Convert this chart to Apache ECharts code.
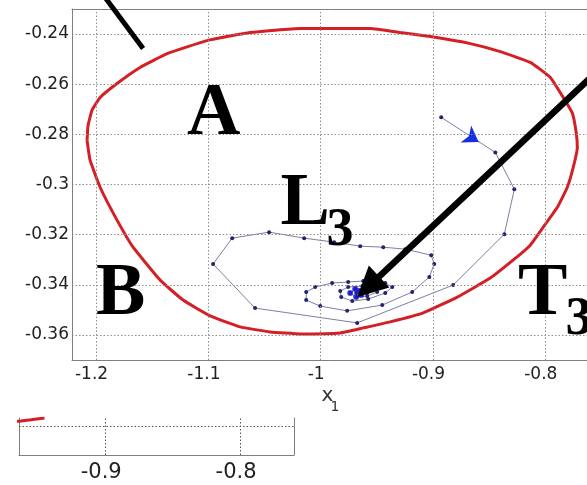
<!DOCTYPE html>
<html>
<head>
<meta charset="utf-8">
<script src="https://cdn.jsdelivr.net/npm/echarts@6/dist/echarts.min.js"></script>
<style>
  html, body { margin: 0; padding: 0; background: #ffffff; }
  #chart { width: 587px; height: 485px; }
</style>
</head>
<body>
<div id="chart"></div>
<script>
// Boundary of the attraction region (closed curve), x1 and x2 coordinates
const boundaryX = [-1.2080, -1.2071, -1.2036, -1.1964, -1.1813, -1.1608, -1.1367, -1.1011, -1.0628, -1.0183,
  -0.9559, -0.9292, -0.9024, -0.8668, -0.8401, -0.8134, -0.7955, -0.7840, -0.7759, -0.7724,
  -0.7715, -0.7751, -0.7804, -0.7893, -0.8018, -0.8134, -0.8285, -0.8490, -0.8784, -0.9087,
  -0.9381, -0.9621, -0.9826, -1.0183, -1.0450, -1.0717, -1.0984, -1.1225, -1.1430, -1.1670,
  -1.1813, -1.1964, -1.2053, -1.2080];
const boundaryY = [-0.2824, -0.2764, -0.2704, -0.2653, -0.2597, -0.2533, -0.2478, -0.2426, -0.2394, -0.2378,
  -0.2378, -0.2394, -0.2410, -0.2438, -0.2470, -0.2513, -0.2573, -0.2653, -0.2716, -0.2796,
  -0.2852, -0.2931, -0.3011, -0.3091, -0.3170, -0.3242, -0.3301, -0.3373, -0.3449, -0.3512,
  -0.3548, -0.3572, -0.3592, -0.3596, -0.3588, -0.3568, -0.3524, -0.3461, -0.3381, -0.3250,
  -0.3142, -0.3011, -0.2903, -0.2824];

// Sampled trajectory spiralling into the equilibrium
const trajX = [-0.8927, -0.8445, -0.8276, -0.8365, -0.8820, -0.9675, -1.0584, -1.0958, -1.0788, -1.0459,
  -1.0147, -0.9880, -0.9648, -0.9443, -0.9247, -0.9016, -0.8989, -0.9033, -0.9185, -0.9452,
  -0.9764, -1.0004, -1.0129, -1.0129, -1.0049, -0.9898, -0.9755, -0.9621, -0.9425, -0.9363,
  -0.9425, -0.9577, -0.9719, -0.9817, -0.9826, -0.9755, -0.9630, -0.9514, -0.9497, -0.9586,
  -0.9684, -0.9737, -0.9693, -0.9612, -0.9586, -0.9639, -0.9684, -0.9657, -0.9630];
const trajY = [-0.2732, -0.2872, -0.3019, -0.3198, -0.3401, -0.3552, -0.3493, -0.3317, -0.3214, -0.3190,
  -0.3214, -0.3230, -0.3246, -0.3250, -0.3258, -0.3282, -0.3317, -0.3369, -0.3429, -0.3481,
  -0.3504, -0.3485, -0.3461, -0.3429, -0.3409, -0.3393, -0.3389, -0.3385, -0.3393, -0.3409,
  -0.3433, -0.3457, -0.3465, -0.3449, -0.3425, -0.3409, -0.3405, -0.3413, -0.3429, -0.3445,
  -0.3449, -0.3433, -0.3417, -0.3417, -0.3433, -0.3441, -0.3433, -0.3425, -0.3429];

// Last samples packed around the equilibrium point
const eqX = [-0.9684, -0.9737, -0.9693, -0.9639, -0.9657, -0.9630];
const eqY = [-0.3449, -0.3433, -0.3417, -0.3441, -0.3425, -0.3429];

// Direction marker on the first step of the trajectory
const startArrowX = [-0.8669, -0.8594];
const startArrowY = [-0.2809, -0.2830];

// Pointer lines (start, end)
const pointerX = [-0.7332, -0.9577];
const pointerY = [-0.2462, -0.3408];
const stubX = [-1.1964, -1.1581];
const stubY = [-0.2227, -0.2458];

// Axis ranges and ticks
const xRange = [-1.2214, -0.762];
const yRange = [-0.37, -0.23];
const xTicks = [-1.2, -1.1, -1, -0.9, -0.8];
const yTicks = [-0.36, -0.34, -0.32, -0.3, -0.28, -0.26, -0.24];

// Lower close-up panel
const insetXRange = [-0.9639, -0.76];
const insetYRange = [-0.37, -0.3572];
const insetXTicks = [-0.9, -0.8];
const insetYTicks = [-0.36];
const insetCurveX = [-0.975, -0.9639, -0.955, -0.945];
const insetCurveY = [-0.3585, -0.3583, -0.3578, -0.3572];

const pairs = (xs, ys) => xs.map((x, i) => [x, ys[i]]);
const fmt = v => String(+(+v).toFixed(4));
const gridStyle = (color) => ({ color: color, width: 1, type: [1.5, 2], opacity: 1 });
const axisGray = '#7f7f7f';
const tickFont = 'DejaVu Sans';

const chart = echarts.init(document.getElementById('chart'), null, { renderer: 'canvas' });

function frameAxis(extra) {
  return Object.assign({
    type: 'value',
    axisLine: { show: true, onZero: false, lineStyle: { color: axisGray, width: 1 } },
    axisTick: { show: false },
    splitLine: { show: false },
    axisLabel: { show: false }
  }, extra);
}

const option = {
  animation: false,
  backgroundColor: '#ffffff',
  grid: [
    { left: 72, top: 9, width: 516, height: 351, outerBoundsMode: 'none', containLabel: false },
    { left: 19, top: 418, width: 275, height: 37, outerBoundsMode: 'none', containLabel: false }
  ],
  xAxis: [
    frameAxis({
      gridIndex: 0, position: 'bottom', min: xRange[0], max: xRange[1],
      axisLabel: {
        show: true, customValues: xTicks, formatter: fmt, color: '#222222',
        fontFamily: tickFont, fontSize: 17, margin: 6, padding: [0, 9, 0, 0], hideOverlap: false
      }
    }),
    frameAxis({ gridIndex: 0, position: 'top', min: xRange[0], max: xRange[1] }),
    frameAxis({
      gridIndex: 1, position: 'bottom', min: insetXRange[0], max: insetXRange[1],
      axisLabel: {
        show: true, customValues: insetXTicks, formatter: fmt, color: '#222222',
        fontFamily: tickFont, fontSize: 21, margin: 7.5, padding: [0, 8, 0, 0], hideOverlap: false
      }
    })
  ],
  yAxis: [
    frameAxis({
      gridIndex: 0, position: 'left', min: yRange[0], max: yRange[1],
      axisLabel: {
        show: true, customValues: yTicks, formatter: fmt, color: '#222222',
        fontFamily: tickFont, fontSize: 17, margin: 3, hideOverlap: false
      }
    }),
    frameAxis({ gridIndex: 1, position: 'left', min: insetYRange[0], max: insetYRange[1] }),
    frameAxis({ gridIndex: 1, position: 'right', min: insetYRange[0], max: insetYRange[1] })
  ],
  series: [
    {
      // dotted grid of the main panel
      type: 'line', xAxisIndex: 0, yAxisIndex: 0, data: [], z: 1, silent: true,
      markLine: {
        silent: true, symbol: ['none', 'none'], label: { show: false }, animation: false,
        lineStyle: gridStyle('#8e8e8e'),
        data: xTicks.map(v => ({ xAxis: v })).concat(yTicks.map(v => ({ yAxis: v })))
      }
    },
    {
      type: 'line', name: 'boundary', xAxisIndex: 0, yAxisIndex: 0, z: 2,
      data: pairs(boundaryX, boundaryY), showSymbol: false, symbol: 'none',
      lineStyle: { color: '#d41f26', width: 3 }, smooth: 0.12
    },
    {
      type: 'line', name: 'trajectory', xAxisIndex: 0, yAxisIndex: 0, z: 3,
      data: pairs(trajX, trajY), symbol: 'circle', symbolSize: 4, showSymbol: true,
      itemStyle: { color: '#22226e', borderWidth: 0 },
      lineStyle: { color: '#7e7ea4', width: 1 }
    },
    {
      type: 'scatter', name: 'equilibrium', xAxisIndex: 0, yAxisIndex: 0, z: 4,
      data: pairs(eqX, eqY), symbol: 'circle', symbolSize: 6,
      itemStyle: { color: '#1a1ad6' }
    },
    {
      type: 'lines', coordinateSystem: 'cartesian2d', xAxisIndex: 0, yAxisIndex: 0, z: 4,
      clip: false, symbol: ['none', 'arrow'], symbolSize: [0, 15],
      lineStyle: { color: '#1530e0', width: 1, opacity: 1, curveness: 0 },
      data: [{ coords: pairs(startArrowX, startArrowY) }]
    },
    {
      type: 'lines', coordinateSystem: 'cartesian2d', xAxisIndex: 0, yAxisIndex: 0, z: 6,
      clip: false, symbol: ['none', 'triangle'], symbolSize: [0, 30],
      lineStyle: { color: '#000000', width: 6.5, opacity: 1, curveness: 0 },
      data: [{ coords: pairs(pointerX, pointerY) }]
    },
    {
      type: 'lines', coordinateSystem: 'cartesian2d', xAxisIndex: 0, yAxisIndex: 0, z: 6,
      clip: false, symbol: ['none', 'none'],
      lineStyle: { color: '#000000', width: 5, opacity: 1, curveness: 0 },
      data: [{ coords: pairs(stubX, stubY) }]
    },
    {
      // dotted grid of the close-up panel
      type: 'line', xAxisIndex: 2, yAxisIndex: 1, data: [], z: 1, silent: true,
      markLine: {
        silent: true, symbol: ['none', 'none'], label: { show: false }, animation: false,
        lineStyle: gridStyle('#555555'),
        data: insetXTicks.map(v => ({ xAxis: v })).concat(insetYTicks.map(v => ({ yAxis: v })))
      }
    },
    {
      type: 'line', xAxisIndex: 2, yAxisIndex: 1, z: 2, clip: true,
      data: pairs(insetCurveX, insetCurveY), showSymbol: false, symbol: 'none',
      lineStyle: { color: '#d41f26', width: 3 }
    }
  ],
  graphic: [
    { type: 'text', x: 187, y: 115, z: 100, style: { text: 'A', font: 'bold 74px "Liberation Serif"', fill: '#000', align: 'left', verticalAlign: 'middle' } },
    { type: 'text', x: 96, y: 295, z: 100, style: { text: 'B', font: 'bold 74px "Liberation Serif"', fill: '#000', align: 'left', verticalAlign: 'middle' } },
    { type: 'text', x: 280.5, y: 205, z: 100, style: { text: 'L', font: 'bold 74px "Liberation Serif"', fill: '#000', align: 'left', verticalAlign: 'middle' } },
    { type: 'text', x: 326.5, y: 231, z: 100, style: { text: '3', font: 'bold 54px "Liberation Serif"', fill: '#000', align: 'left', verticalAlign: 'middle' } },
    { type: 'text', x: 518, y: 295, z: 100, style: { text: 'T', font: 'bold 74px "Liberation Serif"', fill: '#000', align: 'left', verticalAlign: 'middle' } },
    { type: 'text', x: 565.5, y: 320, z: 100, style: { text: '3', font: 'bold 54px "Liberation Serif"', fill: '#000', align: 'left', verticalAlign: 'middle' } },
    { type: 'text', x: 321.5, y: 396, z: 100, style: { text: 'x', font: '20px "DejaVu Sans"', fill: '#333', align: 'left', verticalAlign: 'middle' } },
    { type: 'text', x: 330.5, y: 407, z: 100, style: { text: '1', font: '14px "DejaVu Sans"', fill: '#333', align: 'left', verticalAlign: 'middle' } }
  ]
};

chart.setOption(option);
</script>
</body>
</html>
